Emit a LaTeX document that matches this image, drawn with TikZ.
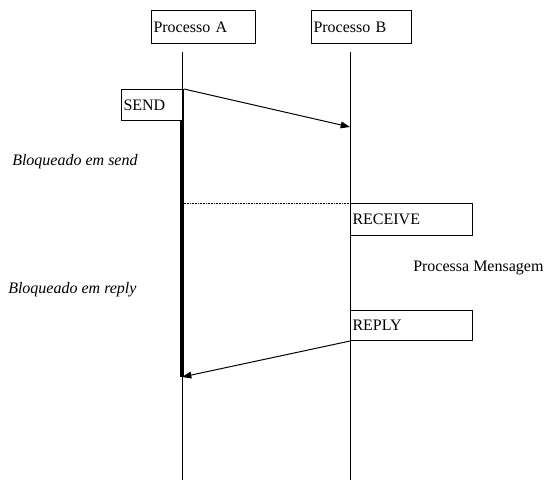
\documentclass[tikz,border=0pt]{standalone}
\usepackage{fontspec}
\setmainfont{Liberation Serif}
\usetikzlibrary{arrows.meta}
\begin{document}
\begin{tikzpicture}[x=0.75pt,y=-0.75pt,
  font=\fontsize{12pt}{14pt}\selectfont,
  box/.style={draw, line width=0.75pt, anchor=north west, align=left, inner xsep=1.5pt, inner ysep=0pt},
  life/.style={line width=0.75pt},
  msg/.style={line width=0.75pt, -{Triangle[length=7pt,width=5pt]}},
  lbl/.style={font=\fontsize{12pt}{14pt}\selectfont\itshape, anchor=west, inner sep=0pt}
]
\useasboundingbox (0,0) rectangle (546,480);
% process boxes
\node[box, minimum width=103*0.75pt, minimum height=33*0.75pt, text width=100*0.75pt] (pa) at (151,10) {Processo A};
\node[box, minimum width=99*0.75pt, minimum height=33*0.75pt, text width=96*0.75pt] (pb) at (311,10) {Processo B};
% lifelines
\coordinate (aTop) at (182,52);
\coordinate (aBot) at (182,480);
\coordinate (bTop) at (350,52);
\coordinate (bBot) at (350,480);
\draw[life] (aTop) -- (aBot);
\draw[life] (bTop) -- (bBot);
% SEND box
\node[box, minimum width=61*0.75pt, minimum height=31*0.75pt, text width=58*0.75pt] (send) at (121,89) {SEND};
% blocked bar
\coordinate (barTop) at (182,120);
\coordinate (barBot) at (182,377);
\draw[line width=3.5pt] (barTop) -- (barBot);
% send message
\coordinate (sendEnd) at (350,127);
\draw[msg] (send.north east) -- (sendEnd);
% dotted line
\coordinate (dotA) at (182,203);
\node[box, minimum width=121*0.75pt, minimum height=32*0.75pt, text width=118*0.75pt] (recv) at (350,203) {RECEIVE};
\draw[line width=0.5pt, dash pattern=on 0.6pt off 0.6pt] (dotA) -- (recv.north west);
% reply
\node[box, minimum width=121*0.75pt, minimum height=30*0.75pt, text width=118*0.75pt] (reply) at (350,310) {REPLY};
\coordinate (replyEnd) at (182,377);
\draw[msg] (reply.south west) -- (replyEnd);
% labels
\node[lbl] (bsend) at (12,162) {Bloqueado em send};
\node[lbl] (breply) at (8,290) {Bloqueado em reply};
\node[anchor=west, inner sep=0pt] (proc) at (413,268) {Processa Mensagem};
\end{tikzpicture}
\end{document}
